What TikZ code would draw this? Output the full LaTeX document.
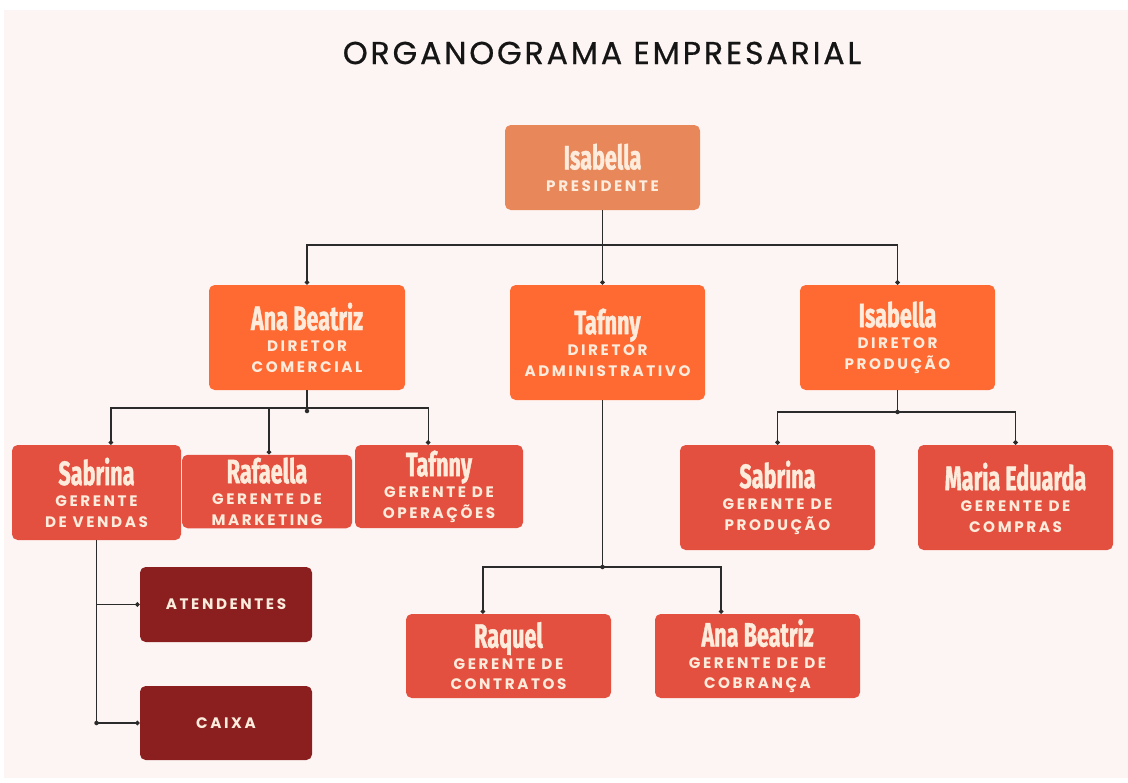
\documentclass[tikz,border=0pt]{standalone}
\usepackage{fontspec}
\usepackage{xcolor}
\usetikzlibrary{arrows.meta, positioning, calc}
\newfontfamily\titlefont{Poppins}[LetterSpace=9, FakeBold=0.6]
\newfontfamily\namefont{Fira Sans}[FakeStretch=0.64, FakeBold=1.2]
\newfontfamily\rolefont{Poppins}[LetterSpace=17]
\definecolor{C_BG}  {HTML}{FDF5F3}
\definecolor{C_TOP} {HTML}{E8875A}
\definecolor{C_DIR} {HTML}{FF6A33}
\definecolor{C_MGR} {HTML}{E4503F}
\definecolor{C_UNIT}{HTML}{8B1E1F}
\definecolor{C_TXT} {HTML}{FDEBDC}
\definecolor{C_LINE}{HTML}{2B2B2B}
\definecolor{C_HEAD}{HTML}{151515}
\newcommand{\orgname}[1]{{\namefont\bfseries\fontsize{24}{24}\selectfont #1}}
\tikzset{
  %% -- generic box of the chart --
  org/box/.style={
    rounded corners=4pt, inner sep=2pt, align=center, text=C_TXT,
    font=\rolefont\bfseries\fontsize{10.8}{14.5}\selectfont
  },
  %% -- box size in pixels of the layout --
  org/size/.style 2 args={minimum width={#1*0.025cm}, minimum height={#2*0.025cm}},
  org/chief/.style={org/box, fill=C_TOP},
  org/dir/.style={org/box, fill=C_DIR},
  org/mgr/.style={org/box, fill=C_MGR},
  org/unit/.style={org/box, fill=C_UNIT},
  %% -- connectors --
  org/link/.style={draw=C_LINE, line width=0.9pt},
  org/drop/.style={org/link, -{Circle[length=3.2pt]}},
}
\begin{document}
\begin{tikzpicture}[x=0.025cm, y=-0.025cm]
%% ── Page and background ──────────────────────────────────────
\useasboundingbox (0,0) rectangle (1128,782);
\fill[white] (0,0) rectangle (1128,782);
\fill[C_BG] (4,10) rectangle (1128,778);

%% ── Bus levels (pixel rows) ──────────────────────────────────
\pgfmathsetmacro{\yA}{245}  % below president
\pgfmathsetmacro{\yB}{408}  % below commercial director
\pgfmathsetmacro{\yC}{567}  % below administrative director
\pgfmathsetmacro{\yD}{412}  % below production director

%% ── Title ────────────────────────────────────────────────────
\node[font=\titlefont\fontsize{22.5}{22.5}\selectfont, text=C_HEAD] (title)
  at (602,53) {ORGANOGRAMA EMPRESARIAL};

%% ── President ────────────────────────────────────────────────
\node[org/chief, org/size={195}{85}] (pres) at (602.5,167.5)
  {\orgname{Isabella}\\[1pt]PRESIDENTE};

%% ── Directors ────────────────────────────────────────────────
\node[org/dir, org/size={196}{105}] (dirCom) at (307,337.5)
  {\orgname{Ana Beatriz}\\[1pt]DIRETOR\\COMERCIAL};
\node[org/dir, org/size={195}{115}] (dirAdm) at (607.5,342.5)
  {\orgname{Tafnny}\\[1pt]DIRETOR\\ADMINISTRATIVO};
\node[org/dir, org/size={195}{105}] (dirPro) at (897.5,337.5)
  {\orgname{Isabella}\\[1pt]DIRETOR\\PRODUÇÃO};

%% ── Managers ─────────────────────────────────────────────────
\node[org/mgr, org/size={169}{95}] (gVen) at (96.5,492.5)
  {\orgname{Sabrina}\\[1pt]GERENTE\\DE VENDAS};
\node[org/mgr, org/size={170}{73}] (gMkt) at (267,491.5)
  {\orgname{Rafaella}\\[1pt]GERENTE DE\\MARKETING};
\node[org/mgr, org/size={168}{83}] (gOpe) at (439,486.5)
  {\orgname{Tafnny}\\[1pt]GERENTE DE\\OPERAÇÕES};
\node[org/mgr, org/size={195}{105}] (gPro) at (777.5,497.5)
  {\orgname{Sabrina}\\[1pt]GERENTE DE\\PRODUÇÃO};
\node[org/mgr, org/size={195}{105}] (gCom) at (1015.5,497.5)
  {\orgname{Maria Eduarda}\\[1pt]GERENTE DE\\COMPRAS};
\node[org/mgr, org/size={205}{84}] (gCon) at (508.5,656)
  {\orgname{Raquel}\\[1pt]GERENTE DE\\CONTRATOS};
\node[org/mgr, org/size={205}{84}] (gCob) at (757.5,656)
  {\orgname{Ana Beatriz}\\[1pt]GERENTE DE DE\\COBRANÇA};

%% ── Sales units ──────────────────────────────────────────────
\node[org/unit, org/size={172}{75}] (uAte) at (226,604.5) {ATENDENTES};
\node[org/unit, org/size={172}{74}] (uCai) at (226,723) {CAIXA};

%% ── Connectors ───────────────────────────────────────────────
%% president -> directors
\coordinate (bA) at (pres.south |- 0,\yA);
\draw[org/link] (pres.south) -- (bA);
\draw[org/drop] (bA) -| (dirCom.north);
\draw[org/drop] (bA) -- (bA |- dirAdm.north);
\draw[org/drop] (bA) -| (dirPro.north);

%% commercial director -> managers
\coordinate (bB) at (dirCom.south |- 0,\yB);
\draw[org/link] (dirCom.south) -- (bB);
\fill[C_LINE] ($(bB)+(0,3)$) circle (1.6pt);
\draw[org/drop] (bB) -| ([xshift=0.36cm]gVen.north);
\draw[org/drop] (bB) -| ([xshift=0.05cm]gMkt.north);
\draw[org/drop] (bB) -| ([xshift=-0.27cm]gOpe.north);

%% administrative director -> managers
\coordinate (bC) at (dirAdm.south -| bA);
\coordinate (bCj) at (bA |- 0,\yC);
\draw[org/link] (bC) -- (bCj);
\fill[C_LINE] (bCj) circle (1.6pt);
\draw[org/drop] (bCj) -| ([xshift=-0.64cm]gCon.north);
\draw[org/drop] (bCj) -| ([xshift=-0.91cm]gCob.north);

%% production director -> managers
\coordinate (bD) at (dirPro.south |- 0,\yD);
\draw[org/link] (dirPro.south) -- (bD);
\fill[C_LINE] (bD) circle (1.6pt);
\draw[org/drop] (bD) -| (gPro.north);
\draw[org/drop] (bD) -| (gCom.north);

%% sales manager -> units
\draw[org/drop] (gVen.south) |- (uAte.west);
\draw[org/drop] (gVen.south) |- (uCai.west);
\fill[C_LINE] (gVen.south |- uCai.west) circle (1.6pt);

\end{tikzpicture}
\end{document}
